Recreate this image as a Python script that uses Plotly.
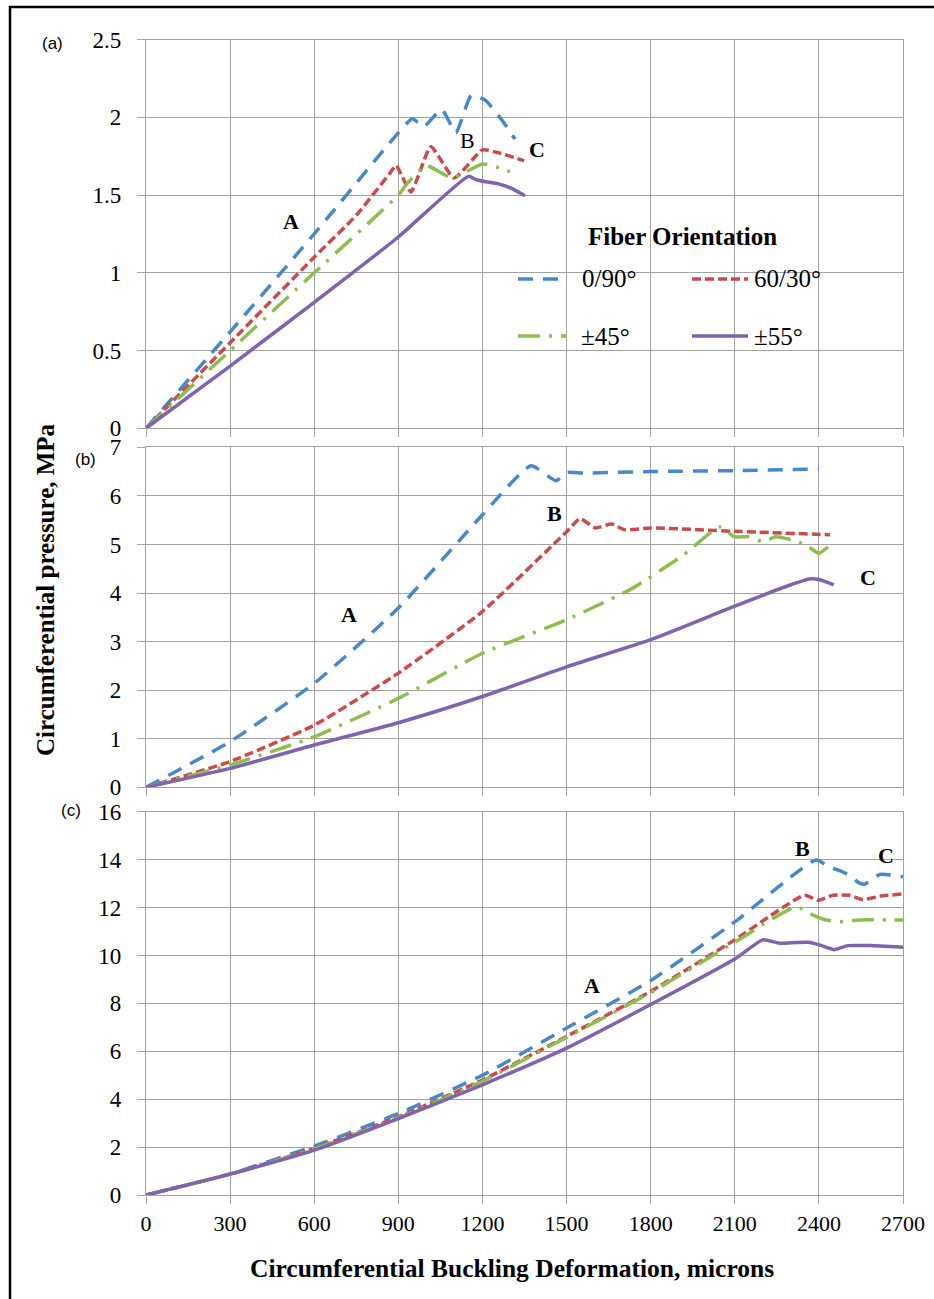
import plotly.graph_objects as go

W, H = 934, 1299

# ---------------- data ----------------
x_ticks = [0, 300, 600, 900, 1200, 1500, 1800, 2100, 2400, 2700]
series_names = ["0/90°", "60/30°", "±45°", "±55°"]

# Panel (a)
a_blue_x = [0, 300, 600, 900, 950, 990, 1055, 1105, 1160, 1210, 1270, 1316]
a_blue_y = [0, 0.62, 1.25, 1.90, 1.99, 1.94, 2.05, 1.90, 2.14, 2.11, 1.98, 1.86]
a_red_x = [0, 300, 600, 750, 870, 892, 945, 1016, 1099, 1200, 1260, 1349]
a_red_y = [0, 0.55, 1.10, 1.37, 1.64, 1.69, 1.52, 1.81, 1.61, 1.79, 1.77, 1.72]
a_green_x = [0, 300, 600, 900, 930, 998, 1093, 1200, 1250, 1298]
a_green_y = [0, 0.50, 1.00, 1.50, 1.57, 1.69, 1.61, 1.70, 1.68, 1.65]
a_purple_x = [0, 300, 600, 900, 1150, 1176, 1212, 1260, 1307, 1352]
a_purple_y = [0, 0.40, 0.81, 1.23, 1.62, 1.60, 1.585, 1.57, 1.54, 1.495]

# Panel (b)
b_blue_x = [0, 300, 600, 900, 1200, 1373, 1462, 1503, 1560, 1800, 2100, 2400]
b_blue_y = [0, 0.94, 2.14, 3.69, 5.61, 6.62, 6.31, 6.48, 6.47, 6.50, 6.52, 6.55]
b_red_x = [0, 300, 600, 900, 1200, 1500, 1548, 1603, 1660, 1709, 1800, 2100, 2440]
b_red_y = [0, 0.53, 1.28, 2.35, 3.62, 5.26, 5.53, 5.34, 5.42, 5.30, 5.34, 5.27, 5.20]
b_green_x = [0, 300, 600, 900, 1200, 1500, 1733, 1916, 2046, 2098, 2152, 2199, 2246, 2300, 2353, 2400, 2441]
b_green_y = [0, 0.46, 1.04, 1.83, 2.76, 3.45, 4.09, 4.78, 5.36, 5.16, 5.16, 5.06, 5.16, 5.10, 4.99, 4.82, 4.99]
b_purple_x = [0, 300, 600, 900, 1200, 1500, 1800, 2100, 2300, 2365, 2400, 2453]
b_purple_y = [0, 0.39, 0.87, 1.33, 1.87, 2.48, 3.04, 3.73, 4.17, 4.29, 4.28, 4.17]

# Panel (c)
c_blue_x = [0, 300, 600, 900, 1200, 1500, 1800, 2100, 2390, 2438, 2474, 2510, 2545, 2563, 2617, 2700]
c_blue_y = [0, 0.88, 2.04, 3.40, 5.00, 6.97, 8.95, 11.40, 13.98, 13.68, 13.54, 13.34, 13.02, 12.97, 13.38, 13.28]
c_red_x = [0, 300, 600, 900, 1200, 1500, 1800, 2100, 2349, 2396, 2450, 2510, 2557, 2617, 2700]
c_red_y = [0, 0.87, 1.95, 3.26, 4.80, 6.62, 8.50, 10.65, 12.51, 12.30, 12.51, 12.51, 12.33, 12.47, 12.57]
c_green_x = [0, 300, 600, 900, 1200, 1500, 1800, 2100, 2319, 2379, 2426, 2474, 2545, 2700]
c_green_y = [0, 0.87, 1.92, 3.22, 4.75, 6.58, 8.45, 10.55, 12.03, 11.68, 11.48, 11.41, 11.48, 11.48]
c_purple_x = [0, 300, 600, 900, 1200, 1500, 1800, 2100, 2200, 2260, 2319, 2361, 2402, 2455, 2503, 2581, 2700]
c_purple_y = [0, 0.87, 1.87, 3.19, 4.60, 6.13, 7.95, 9.85, 10.65, 10.51, 10.54, 10.55, 10.44, 10.24, 10.41, 10.41, 10.34]

panels = [
    ("x", "y", [(a_blue_x, a_blue_y), (a_red_x, a_red_y), (a_green_x, a_green_y), (a_purple_x, a_purple_y)]),
    ("x2", "y2", [(b_blue_x, b_blue_y), (b_red_x, b_red_y), (b_green_x, b_green_y), (b_purple_x, b_purple_y)]),
    ("x3", "y3", [(c_blue_x, c_blue_y), (c_red_x, c_red_y), (c_green_x, c_green_y), (c_purple_x, c_purple_y)]),
]

colors = ["#4787CC", "#C94B4B", "#8DBE4E", "#7F62B0"]
dashes = ["15px,10px", "9px,4px", "22px,9px,3px,9px", "solid"]

SERIF = "Liberation Serif"
SANS = "Liberation Sans"
GRID = "#a3a3a3"

fig = go.Figure()
for xa, ya, data in panels:
    for i, (xs, ys) in enumerate(data):
        fig.add_trace(go.Scatter(
            x=xs, y=ys, xaxis=xa, yaxis=ya, mode="lines",
            name=series_names[i], showlegend=False,
            line=dict(color=colors[i], width=3.5, dash=dashes[i], shape="spline", smoothing=0.5),
        ))

def px_x(p):
    return p / W

def px_y(p):
    return 1 - p / H

x_dom = [px_x(146), px_x(903)]
y_doms = [
    [px_y(428.3), px_y(39.5)],
    [px_y(787.3), px_y(447.3)],
    [px_y(1195), px_y(811.7)],
]
y_ranges = [[0, 2.5], [0, 7], [0, 16]]
y_dticks = [0.5, 1, 2]

axis_common = dict(
    showgrid=True, gridcolor=GRID, gridwidth=1.2,
    showline=True, linecolor=GRID, linewidth=1.2, mirror=True,
    ticks="outside", ticklen=8, tickcolor=GRID, tickwidth=1.2,
    zeroline=False, automargin=False,
)

layout = dict(
    width=W, height=H,
    margin=dict(l=0, r=0, t=0, b=0, pad=0),
    paper_bgcolor="white", plot_bgcolor="white",
    showlegend=False,
)
for k in range(3):
    sfx = "" if k == 0 else str(k + 1)
    layout["xaxis" + sfx] = dict(
        axis_common, domain=x_dom, range=[0, 2700], tickvals=x_ticks,
        ticktext=[str(v) for v in x_ticks],
        showticklabels=(k == 2), anchor="y" + sfx,
        tickfont=dict(family=SERIF, size=22, color="black"),
        ticklabelstandoff=0,
    )
    layout["yaxis" + sfx] = dict(
        axis_common, domain=y_doms[k], range=y_ranges[k], dtick=y_dticks[k],
        anchor="x" + sfx, tickfont=dict(family=SERIF, size=23, color="black"),
        ticklabelstandoff=11,
    )
fig.update_layout(**layout)

ann = []
# point labels A, B, C
labels = [
    ("x", "y", 518, 1.33, "A", True), ("x", "y", 1146, 1.85, "B", False), ("x", "y", 1393, 1.79, "C", True),
    ("x2", "y2", 725, 3.55, "A", True), ("x2", "y2", 1457, 5.64, "B", True), ("x2", "y2", 2575, 4.31, "C", True),
    ("x3", "y3", 1589, 8.76, "A", True), ("x3", "y3", 2343, 14.48, "B", True), ("x3", "y3", 2639, 14.18, "C", True),
]
for xa, ya, xv, yv, t, bold in labels:
    ann.append(dict(x=xv, y=yv, xref=xa, yref=ya, text=("<b>%s</b>" % t) if bold else t,
                    showarrow=False, xanchor="center", yanchor="middle",
                    font=dict(family=SERIF, size=22, color="black")))

def paper_text(text, cx, cy, size, family=SERIF, xanchor="center", angle=0):
    return dict(x=px_x(cx), y=px_y(cy), xref="paper", yref="paper", text=text,
                showarrow=False, xanchor=xanchor, yanchor="middle", textangle=angle,
                font=dict(family=family, size=size, color="black"))

# panel tags
for t, cx, cy in [("(a)", 52, 43), ("(b)", 85, 460), ("(c)", 71, 810)]:
    ann.append(paper_text(t, cx, cy, 17, family=SANS))

# axis titles
ann.append(paper_text("<b>Circumferential pressure, MPa</b>", 45, 590, 25, angle=-90))
ann.append(paper_text("<b>Circumferential Buckling Deformation, microns</b>", 512, 1268, 25.5))

# legend
ann.append(paper_text("<b>Fiber Orientation</b>", 682, 237, 25))
legend_items = [
    (0, 518, 563, 580, 279),
    (1, 692, 748, 752, 279),
    (2, 518, 567, 579, 336),
    (3, 692, 748, 752, 336),
]
shapes = []
for i, x0, x1, tx, ty in legend_items:
    shapes.append(dict(type="line", xref="paper", yref="paper",
                       x0=px_x(x0), x1=px_x(x1), y0=px_y(ty), y1=px_y(ty),
                       line=dict(color=colors[i], width=3.5, dash=dashes[i])))
    ann.append(paper_text(series_names[i], tx, ty, 25, xanchor="left"))

# outer frame
shapes.append(dict(type="rect", xref="paper", yref="paper",
                   x0=px_x(10), x1=1.05, y0=-0.05, y1=px_y(7),
                   line=dict(color="black", width=2.5)))

fig.update_layout(annotations=ann, shapes=shapes)
fig.write_html("out.html")
